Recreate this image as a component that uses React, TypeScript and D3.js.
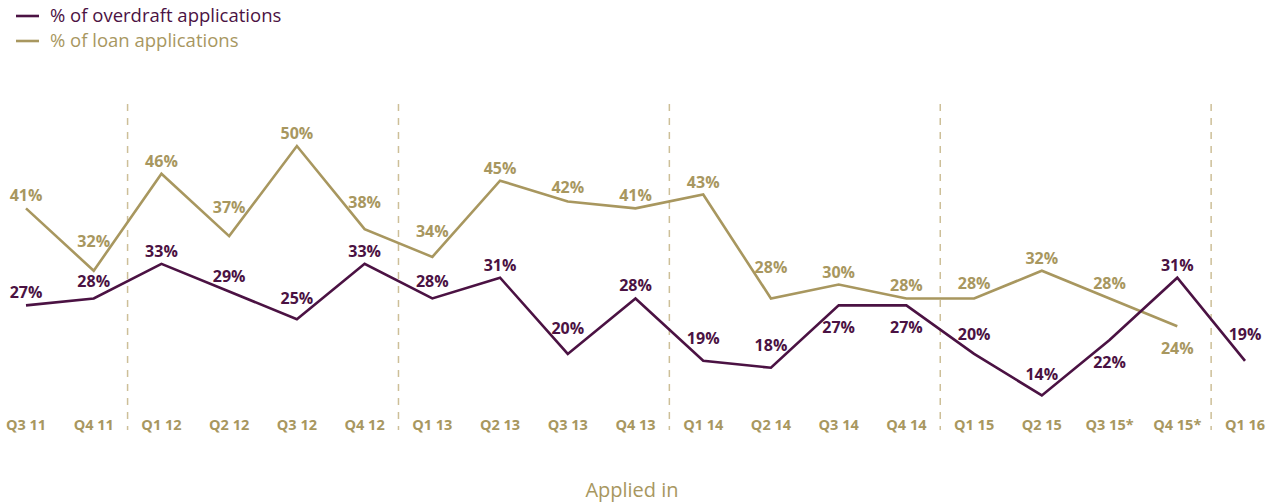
import React from 'react'
import * as d3 from 'd3'

const quarters = [
  'Q3 11', 'Q4 11', 'Q1 12', 'Q2 12', 'Q3 12', 'Q4 12', 'Q1 13', 'Q2 13', 'Q3 13', 'Q4 13',
  'Q1 14', 'Q2 14', 'Q3 14', 'Q4 14', 'Q1 15', 'Q2 15', 'Q3 15*', 'Q4 15*', 'Q1 16',
]
const overdraft = [27, 28, 33, 29, 25, 33, 28, 31, 20, 28, 19, 18, 27, 27, 20, 14, 22, 31, 19]
const loan: (number | null)[] = [41, 32, 46, 37, 50, 38, 34, 45, 42, 41, 43, 28, 30, 28, 28, 32, 28, 24, null]
const yearStarts = ['Q1 12', 'Q1 13', 'Q1 14', 'Q1 15', 'Q1 16']
// labels that sit under their point
const overdraftBelow = ['Q3 14', 'Q4 14', 'Q3 15*']
const loanBelow = ['Q4 15*']

const PURPLE = '#4b1243'
const GOLD = '#a8975f'
const DASH = '#cdbf98'
const W = 1278
const H = 504

const x = d3.scalePoint<string>().domain(quarters).range([26, 1245])
const y = d3.scaleLinear().domain([0, 50]).range([492.5, 146])
const step = x.step()

// push the label up far enough to clear the neighbouring segments
function labelDy(vals: (number | null)[], i: number, below: boolean) {
  if (below) return 28
  const y0 = y(vals[i] as number)
  let rise = 0
  for (const j of [i - 1, i + 1]) {
    const v = vals[j]
    if (v == null) continue
    rise = Math.max(rise, ((y0 - y(v)) / step) * 14)
  }
  return -Math.max(7, rise + 4)
}

const Series = ({ vals, color, below }: { vals: (number | null)[]; color: string; below: string[] }) => {
  const line = d3.line<number | null>()
    .defined(d => d != null)
    .x((_, i) => x(quarters[i]) as number)
    .y(d => y(d as number))
  return (
    <g>
      <path d={line(vals) || ''} fill="none" stroke={color} strokeWidth={2.6} strokeLinejoin="miter" />
      {vals.map((v, i) => v == null ? null : (
        <text key={i} x={x(quarters[i])} y={y(v) + labelDy(vals, i, below.includes(quarters[i]))}
          textAnchor="middle" fill={color} fontSize={16} fontWeight={700}>{v}%</text>
      ))}
    </g>
  )
}

export default function App() {
  return (
    <svg width={W} height={H} style={{ position: 'absolute', left: 0, top: 0, fontFamily: '"Open Sans", sans-serif' }}>
      {/* legend */}
      <line x1={16} x2={39} y1={16} y2={16} stroke={PURPLE} strokeWidth={2.6} />
      <text x={50} y={22} fill={PURPLE} fontSize={18.5}>% of overdraft applications</text>
      <line x1={16} x2={39} y1={41} y2={41} stroke={GOLD} strokeWidth={2.6} />
      <text x={50} y={47} fill={GOLD} fontSize={18.5}>% of loan applications</text>

      {/* year separators */}
      {yearStarts.map(q => {
        const i = quarters.indexOf(q)
        const xm = ((x(quarters[i - 1]) as number) + (x(q) as number)) / 2
        return <line key={q} x1={xm} x2={xm} y1={104} y2={430} stroke={DASH} strokeWidth={1.5} strokeDasharray="7 7" />
      })}

      {/* category labels */}
      {quarters.map(q => (
        <text key={q} x={x(q)} y={430} textAnchor="middle" fill={GOLD} fontSize={14.5} fontWeight={700}>{q}</text>
      ))}

      <Series vals={loan} color={GOLD} below={loanBelow} />
      <Series vals={overdraft} color={PURPLE} below={overdraftBelow} />

      <text x={632} y={497} textAnchor="middle" fill={GOLD} fontSize={20}>Applied in</text>
    </svg>
  )
}
